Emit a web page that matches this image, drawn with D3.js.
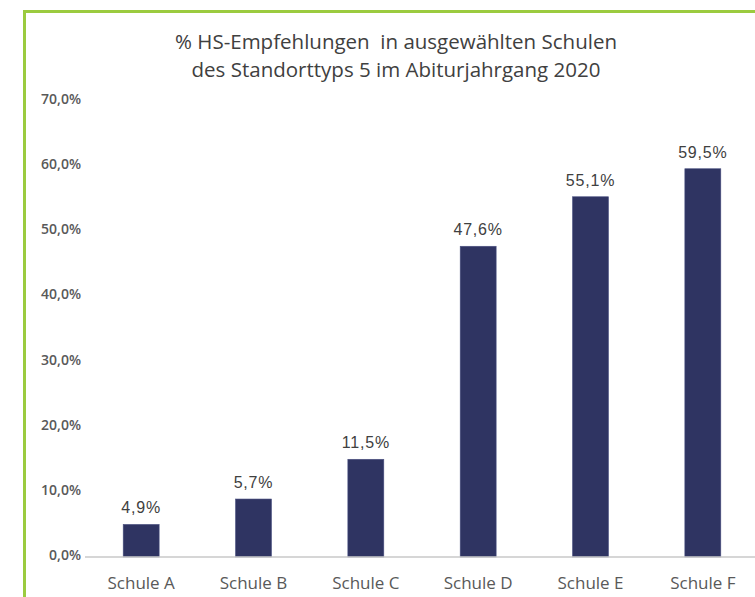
<html>
  <head>
    <meta charset="utf-8">
    <script src="https://d3js.org/d3.v7.min.js"></script>
  </head>
  <style type="text/css">
    body { margin: 0; background: #fff; }
    svg { font-family: "Open Sans", "Noto Sans", sans-serif; }
    .axis text { fill: #595959; }
    .title-text { fill: #404040; font-size: 20.5px; white-space: pre; }
    .value-text { font-family: "Liberation Sans", Arial, sans-serif; font-size: 16px; letter-spacing: 0.8px; fill: #404040; }
  </style>
  <body>
    <div id="chart"></div>
  </body>
  <script type="text/javascript">
    var schools = ["Schule A", "Schule B", "Schule C", "Schule D", "Schule E", "Schule F"];
    // bar heights as drawn in the picture
    var values = [5.0, 8.9, 15.0, 47.7, 55.3, 59.6];
    // the printed data labels (B and C differ from their bars in the original)
    var valueLabels = ["4,9%", "5,7%", "11,5%", "47,6%", "55,1%", "59,5%"];
    var yTicks = [0, 10, 20, 30, 40, 50, 60, 70];
    var titleLines = ["% HS-Empfehlungen  in ausgewählten Schulen", "des Standorttyps 5 im Abiturjahrgang 2020"];

    var width = 755;
    var height = 597;

    var svg = d3.select("#chart").append("svg")
      .attr("width", width)
      .attr("height", height);

    /* green frame */
    svg.append("path")
      .attr("d", "M24.5," + height + " V11.5 H" + width)
      .attr("fill", "none")
      .attr("stroke", "#9bcb3f")
      .attr("stroke-width", 3);

    /* Scale */
    var xScale = d3.scaleBand()
      .domain(schools)
      .range([85, 759])
      .paddingInner(0.68)
      .paddingOuter(0.34);

    var yScale = d3.scaleLinear()
      .domain([0, 70])
      .range([557, 101]);

    /* Title */
    svg.selectAll(".title-text")
      .data(titleLines).enter()
      .append("text")
      .attr("class", "title-text")
      .attr("text-anchor", "middle")
      .attr("x", 396)
      .attr("y", (d, i) => 49 + i * 28)
      .text(d => d);

    /* Y axis (labels only) */
    var yAxis = d3.axisLeft(yScale)
      .tickValues(yTicks)
      .tickSize(0)
      .tickPadding(0)
      .tickFormat(d => d3.format(".1f")(d).replace(".", ",") + "%");

    svg.append("g")
      .attr("class", "y axis")
      .attr("transform", "translate(81,-2)")
      .call(yAxis)
      .attr("font-family", null)
      .attr("font-size", null)
      .call(g => g.select(".domain").remove())
      .selectAll("text")
      .style("font-size", "14px")
      .style("font-weight", "600");

    /* Bars */
    svg.append("g")
      .selectAll("rect")
      .data(values).enter()
      .append("rect")
      .attr("x", (d, i) => xScale(schools[i]))
      .attr("y", d => yScale(d))
      .attr("width", xScale.bandwidth())
      .attr("height", d => yScale(0) - yScale(d))
      .attr("fill", "#2f3462")
      .attr("stroke", "#4a5080")
      .attr("stroke-width", 0.6);

    /* Value labels */
    svg.append("g")
      .selectAll("text")
      .data(values).enter()
      .append("text")
      .attr("class", "value-text")
      .attr("text-anchor", "middle")
      .attr("x", (d, i) => xScale(schools[i]) + xScale.bandwidth() / 2)
      .attr("y", d => yScale(d) - 11)
      .text((d, i) => valueLabels[i]);

    /* X axis */
    var xAxis = d3.axisBottom(xScale).tickSize(0).tickPadding(20);

    svg.append("g")
      .attr("class", "x axis")
      .attr("transform", "translate(0,557)")
      .call(xAxis)
      .attr("font-family", null)
      .attr("font-size", null)
      .call(g => g.select(".domain").attr("stroke", "#c8c8c8").attr("stroke-width", 1.5)
        .attr("d", "M85,0H" + width))
      .selectAll("text")
      .style("font-size", "17px");
  </script>
</html>
